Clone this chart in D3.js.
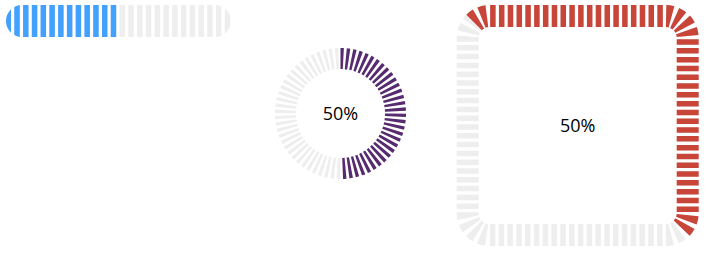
<!DOCTYPE html>
<html>
<head>
<meta charset="utf-8">
<script src="https://cdn.jsdelivr.net/npm/d3@7"></script>
<style>
  body { margin: 0; background: #fff; }
  svg { display: block; }
  text { font-family: "Open Sans", "Noto Sans", sans-serif; }
</style>
</head>
<body>
<svg id="chart" width="716" height="274"></svg>
<script>
// progress values for the three bars
var barNames = ["line", "circle", "square"];
var barValues = [50, 50, 50];
var barLabels = ["", "50%", "50%"];

var width = 716, height = 274;
var svg = d3.select("#chart");
var trackColor = "#eeeeee";

// draws the grey striped track, then the coloured stripes up to value%
function drawStriped(g, d, value, color, sw, dash, gap, offset) {
    var bg = g.append("path")
        .attr("d", d)
        .attr("fill", "none")
        .attr("stroke", trackColor)
        .attr("stroke-width", sw)
        .attr("stroke-dasharray", dash + " " + gap)
        .attr("stroke-dashoffset", offset);
    var total = bg.node().getTotalLength();
    var pct = d3.scaleLinear().domain([0, 100]).range([0, total]);
    var cut = pct(value);
    var fg = g.append("path")
        .attr("d", d)
        .attr("fill", "none")
        .attr("stroke", color)
        .attr("stroke-width", sw);
    // same phase as the track, cut at 'cut' then one long gap
    var pre = ((offset % (dash + gap)) + (dash + gap)) % (dash + gap);
    var arr = [];
    var pos = 0;
    var first = true;
    var inDash = pre < dash;
    var rem = inDash ? dash - pre : dash + gap - pre;
    while (pos < cut) {
        var len = Math.min(rem, cut - pos);
        if (first && !inDash) { arr.push(0); }
        first = false;
        arr.push(len);
        pos += len;
        inDash = !inDash;
        rem = inDash ? dash : gap;
    }
    if (arr.length % 2 == 0) arr.push(0);
    arr.push(total + 10);
    fg.attr("stroke-dasharray", arr.join(" "));
}

// ---- line bar ----
var lineG = svg.append("g");
var x = d3.scaleLinear().domain([0, 100]).range([6, 231]);
lineG.append("clipPath").attr("id", "pill")
    .append("rect")
    .attr("x", x(0)).attr("y", 5)
    .attr("width", x(100) - x(0)).attr("height", 32)
    .attr("rx", 16).attr("ry", 16);
var lineBody = lineG.append("g").attr("clip-path", "url(#pill)");
drawStriped(lineBody, "M" + (x(0) - 0.5) + ",21H" + x(100), barValues[0], "#42a0ff", 32, 5.5, 3.27, 0);

// ---- circle ----
var cx = 340.5, cy = 113.5, cr = 55;
var circG = svg.append("g");
var cp = d3.path();
cp.moveTo(cx, cy - cr);
cp.arc(cx, cy, cr, -Math.PI / 2, Math.PI * 1.5);
drawStriped(circG, cp.toString(), barValues[1], "#572b6f", 21, 2.9, 2.5, 0);
circG.append("text")
    .attr("x", cx).attr("y", cy - 1)
    .attr("text-anchor", "middle")
    .attr("dominant-baseline", "central")
    .attr("font-size", 18)
    .attr("fill", "#000")
    .text(barLabels[1]);

// ---- rounded square ----
var x0 = 467.7, y0 = 16, x1 = 687.7, y1 = 235, r = 22;
var sqG = svg.append("g");
var sp = d3.path();
var a = Math.PI * 1.25;
sp.moveTo(x0 + r + r * Math.cos(a), y0 + r + r * Math.sin(a));
sp.arc(x0 + r, y0 + r, r, a, Math.PI * 1.5);
sp.lineTo(x1 - r, y0);
sp.arc(x1 - r, y0 + r, r, -Math.PI / 2, 0);
sp.lineTo(x1, y1 - r);
sp.arc(x1 - r, y1 - r, r, 0, Math.PI / 2);
sp.lineTo(x0 + r, y1);
sp.arc(x0 + r, y1 - r, r, Math.PI / 2, Math.PI);
sp.lineTo(x0, y0 + r);
sp.arc(x0 + r, y0 + r, r, Math.PI, a);
drawStriped(sqG, sp.toString(), barValues[2], "#c8453a", 22, 5.5, 3.3, 0);
sqG.append("text")
    .attr("x", (x0 + x1) / 2).attr("y", (y0 + y1) / 2 - 1)
    .attr("text-anchor", "middle")
    .attr("dominant-baseline", "central")
    .attr("font-size", 18)
    .attr("fill", "#000")
    .text(barLabels[2]);
</script>
</body>
</html>
